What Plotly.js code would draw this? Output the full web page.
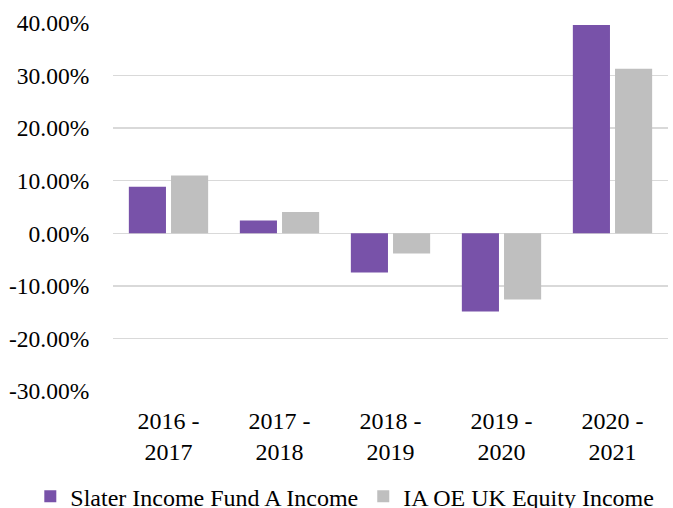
<!DOCTYPE html>
<html><head><meta charset="utf-8">
<script src="https://cdn.plot.ly/plotly-3.0.1.min.js"></script>
<style>html,body{margin:0;padding:0;background:#fff;}#chart{width:673px;height:508px;}</style>
</head><body><div id="chart"></div>
<script>
// Chart data
const categories = ["2016 -<br>2017", "2017 -<br>2018", "2018 -<br>2019", "2019 -<br>2020", "2020 -<br>2021"];
const slaterValues = [0.0884, 0.0243, -0.0745, -0.149, 0.396];
const iaValues = [0.110, 0.0403, -0.0384, -0.126, 0.313];
const seriesNames = ["Slater Income Fund A Income", "IA OE UK Equity Income"];
const yTicks = [-0.3, -0.2, -0.1, 0, 0.1, 0.2, 0.3, 0.4];
const yTickText = yTicks.map(v => (v * 100).toFixed(2) + "%");

const fam = "Liberation Serif";
const yFont = {family: fam, size: 23.5, color: "#000000"};
const xFont = {family: fam, size: 24, color: "#000000"};
const legendFont = {family: fam, size: 24, color: "#000000"};
const traces = [
  {type: "bar", x: categories, y: slaterValues, name: seriesNames[0], marker: {color: "#7852A9"}, hoverinfo: "none"},
  {type: "bar", x: categories, y: iaValues, name: seriesNames[1], marker: {color: "#BFBFBF"}, hoverinfo: "none"}
];
const layout = {
  width: 673, height: 508,
  margin: {l: 113, r: 5, t: 23, b: 117, autoexpand: false},
  paper_bgcolor: "#ffffff", plot_bgcolor: "#ffffff",
  font: legendFont,
  barmode: "group", bargap: 0.24, bargroupgap: 0.12,
  showlegend: true,
  legend: {orientation: "h", x: -0.149, xanchor: "left", y: -0.348, yanchor: "bottom",
           font: legendFont, itemwidth: 30, tracegroupgap: 0},
  xaxis: {type: "category", showgrid: false, zeroline: false, showline: false,
          ticks: "outside", ticklen: 8, tickcolor: "rgba(0,0,0,0)", tickfont: xFont},
  yaxis: {range: [-0.3, 0.4], tickvals: yTicks, ticktext: yTickText, showgrid: true, gridcolor: "#d9d9d9", gridwidth: 1.5,
          zeroline: true, zerolinecolor: "#d9d9d9", zerolinewidth: 1.5, showline: false,
          ticks: "outside", ticklen: 18, tickcolor: "rgba(0,0,0,0)", tickfont: yFont}
};
Plotly.newPlot("chart", traces, layout, {displayModeBar: false, staticPlot: true});
</script></body></html>
